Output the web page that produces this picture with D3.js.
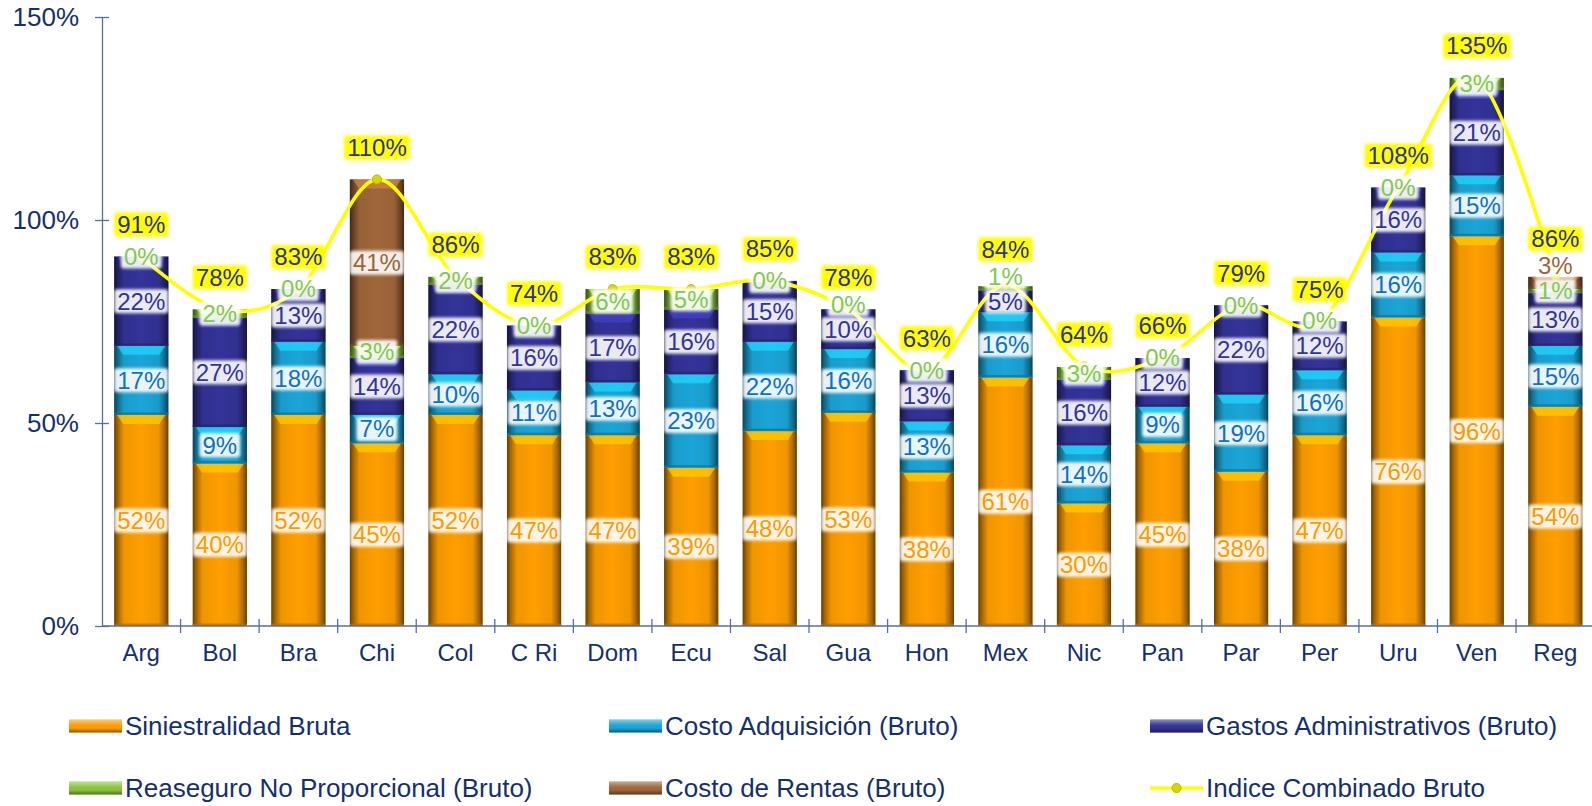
<!DOCTYPE html>
<html>
<head>
<meta charset="utf-8">
<script src="https://cdn.jsdelivr.net/npm/d3@7"></script>
<style>
  body { margin: 0; background: #fff; }
  svg { display: block; font-family: "Liberation Sans", Arial, sans-serif; }
</style>
</head>
<body>
<div id="chart"></div>
<script>
// ---- data (percent) ----
var categories = ["Arg","Bol","Bra","Chi","Col","C Ri","Dom","Ecu","Sal","Gua","Hon","Mex","Nic","Pan","Par","Per","Uru","Ven","Reg"];
var siniestralidad = [52, 40, 52, 45, 52, 47, 47, 39, 48, 52.5, 37.8, 61.2, 30.2, 45, 38, 47, 76, 96, 54];
var costoAdquisicion = [17, 9, 18, 7, 10, 11, 13, 23, 22, 15.7, 12.6, 16.1, 14.3, 9, 19, 16, 16, 15, 15];
var gastosAdmin = [22, 27, 13, 14, 22, 16, 17, 16, 15, 9.8, 12.6, 5.4, 16.1, 12, 22, 12, 16, 21, 13];
var reaseguroNP = [0, 2, 0, 3, 2, 0, 6, 5, 0, 0, 0, 1, 3.2, 0, 0, 0, 0, 3, 1];
var costoRentas = [null, null, null, 41, null, null, null, null, null, null, null, null, null, null, null, null, null, null, 3];
var indiceCombinado = [91, 78, 83, 110, 86, 74, 83, 83, 85, 78, 63, 84, 64, 66, 79, 75, 108, 135, 86];
var yTicks = [0, 50, 100, 150];

var seriesNames = ["Siniestralidad Bruta", "Costo Adquisición (Bruto)", "Gastos Administrativos (Bruto)",
                   "Reaseguro No Proporcional (Bruto)", "Costo de Rentas (Bruto)"];
var lineName = "Indice Combinado Bruto";
var keys = ["sin", "cost", "gast", "reas", "rent"];
var barColors = ["#FF9E00", "#1BA5D8", "#333399", "#8CC63F", "#A0673A"];
var labelColors = ["#FF9900", "#1070C0", "#333399", "#80C850", "#99663A"];

var cfg = {
    width: 1592, height: 806,
    left: 102, top: 17, bottom: 626,
    right: 1594.6
};

var rows = categories.map(function(c, i){
    return {cat: c, sin: siniestralidad[i], cost: costoAdquisicion[i], gast: gastosAdmin[i],
            reas: reaseguroNP[i], rent: costoRentas[i], total: indiceCombinado[i]};
});

var x = d3.scaleBand().domain(categories).range([cfg.left, cfg.right])
    .paddingInner(0.31).paddingOuter(0.155);
var y = d3.scaleLinear().domain([0, 150]).range([cfg.bottom, cfg.top]);

var svg = d3.select("#chart").append("svg")
    .attr("width", cfg.width).attr("height", cfg.height);

var defs = svg.append("defs");
var hs = defs.append("linearGradient").attr("id", "hshade").attr("x1", 0).attr("x2", 1).attr("y1", 0).attr("y2", 0);
[[0, .6], [.07, .35], [.18, .06], [.5, 0], [.82, .06], [.93, .35], [1, .6]].forEach(function(s){
    hs.append("stop").attr("offset", s[0]).attr("stop-color", "#000").attr("stop-opacity", s[1]);
});
var vs = defs.append("linearGradient").attr("id", "vshade").attr("x1", 0).attr("x2", 0).attr("y1", 0).attr("y2", 1);
[[0, "#fff", .45], [.35, "#fff", .1], [.65, "#000", 0], [1, "#000", .45]].forEach(function(s){
    vs.append("stop").attr("offset", s[0]).attr("stop-color", s[1]).attr("stop-opacity", s[2]);
});
defs.append("filter").attr("id", "soft").attr("x", "-20%").attr("y", "-20%").attr("width", "140%").attr("height", "140%")
    .append("feGaussianBlur").attr("stdDeviation", 1.4);

// stacked data through d3.stack
var stack = d3.stack().keys(keys).value(function(d, k){ return d[k] || 0; });
var stacked = stack(rows);

// ---- bars ----
var gBars = svg.append("g").attr("class", "bars");
stacked.forEach(function(layer, si){
    var col = d3.color(barColors[si]);
    var g = gBars.append("g").attr("class", "layer-" + keys[si]);
    layer.forEach(function(d){
        var h = y(d[0]) - y(d[1]);
        if (h <= 0.5) return;
        var bx = x(d.data.cat), bw = x.bandwidth(), by = y(d[1]);
        g.append("rect").attr("x", bx).attr("y", by).attr("width", bw).attr("height", h)
            .attr("fill", barColors[si]);
        g.append("rect").attr("x", bx).attr("y", by).attr("width", bw).attr("height", h)
            .attr("fill", "url(#hshade)");
        // top bevel
        var bh = Math.min(9, h * 0.5);
        g.append("path")
            .attr("d", "M" + (bx + 3) + "," + by + "L" + (bx + bw - 3) + "," + by +
                       "L" + (bx + bw - 9) + "," + (by + bh) + "L" + (bx + 9) + "," + (by + bh) + "Z")
            .attr("fill", col.brighter(0.7)).attr("opacity", 0.75);
        // bottom dark edge
        g.append("rect").attr("x", bx).attr("y", by + h - Math.min(2.5, h * 0.3)).attr("width", bw)
            .attr("height", Math.min(2.5, h * 0.3)).attr("fill", col.darker(1)).attr("opacity", 0.7);
    });
});

// ---- axes ----
var axisColor = "#5470A6", textColor = "#14306C";
var yAxis = d3.axisLeft(y).tickValues(yTicks).tickFormat(function(d){ return d + "%"; })
    .tickSizeInner(7).tickSizeOuter(0).tickPadding(16);
var gy = svg.append("g").attr("transform", "translate(" + cfg.left + ",0)").call(yAxis);
gy.select(".domain").attr("stroke", axisColor).attr("stroke-width", 1.3);
gy.selectAll(".tick line").attr("stroke", axisColor).attr("x1", 7).attr("x2", -7).attr("stroke-width", 1.3);
gy.selectAll(".tick text").attr("fill", textColor).style("font-size", "26px");

var xAxis = d3.axisBottom(x).tickSize(0).tickPadding(18);
var gx = svg.append("g").attr("transform", "translate(0," + cfg.bottom + ")").call(xAxis);
gx.select(".domain").attr("stroke", axisColor).attr("stroke-width", 1.3).attr("d", "M" + cfg.left + ",0H" + cfg.width);
gx.selectAll(".tick text").attr("fill", textColor).style("font-size", "24px");
var gap = x.step() * x.paddingInner() / 2;
gx.selectAll(".sep").data(categories).enter().append("line")
    .attr("x1", function(d){ return x(d) + x.bandwidth() + gap; })
    .attr("x2", function(d){ return x(d) + x.bandwidth() + gap; })
    .attr("y1", -7).attr("y2", 7)
    .attr("stroke", axisColor).attr("stroke-width", 1.3);

// ---- line ----
var cx = function(d){ return x(d.cat) + x.bandwidth() / 2; };
var line = d3.line().x(cx).y(function(d){ return y(d.total); }).curve(d3.curveCardinal.tension(0));
svg.append("path").datum(rows).attr("d", line)
    .attr("fill", "none").attr("stroke", "#FFFF00").attr("stroke-width", 3.6);
svg.selectAll(".marker").data(rows).enter().append("circle")
    .attr("cx", cx).attr("cy", function(d){ return y(d.total); }).attr("r", 4.5)
    .attr("fill", "#D6D600").attr("stroke", "#B8B800").attr("stroke-width", 1);

// ---- labels ----
var gLabels = svg.append("g").attr("class", "labels").style("font-size", "24px");
function addLabel(xc, yc, txt, color, bg){
    var g = gLabels.append("g");
    var t = g.append("text").attr("x", xc).attr("y", yc).attr("dy", "0.35em")
        .attr("text-anchor", "middle").attr("fill", color).text(txt);
    var w = t.node().getComputedTextLength();
    g.insert("rect", "text").attr("x", xc - w / 2 - 3).attr("y", yc - 12).attr("width", w + 6).attr("height", 24)
        .attr("rx", 3).attr("fill", bg).attr("opacity", bg === "#FFFF00" ? 1 : 0.9)
        .attr("filter", "url(#soft)");
}

rows.forEach(function(r, i){
    var xc = x(r.cat) + x.bandwidth() / 2;
    var labs = [];
    stacked.forEach(function(layer, si){
        var v = r[keys[si]];
        if (v === null || v === undefined) return;
        var d = layer[i];
        labs.push({y: y((d[0] + d[1]) / 2), txt: Math.round(v) + "%", color: labelColors[si]});
    });
    for (var k = 1; k < labs.length; k++) {
        if (labs[k].y > labs[k - 1].y - 25) labs[k].y = labs[k - 1].y - 25;
    }
    labs.forEach(function(l){ addLabel(xc, l.y, l.txt, l.color, "#FFFFFF"); });
    var ty = Math.min(y(r.total) - 32, labs[labs.length - 1].y - 27);
    addLabel(xc, ty, r.total + "%", "#2E3192", "#FFFF00");
});

// ---- legend ----
var legendItems = [
    {name: seriesNames[0], color: barColors[0], x: 69, y: 726},
    {name: seriesNames[1], color: barColors[1], x: 609, y: 726},
    {name: seriesNames[2], color: barColors[2], x: 1150, y: 726},
    {name: seriesNames[3], color: barColors[3], x: 69, y: 788},
    {name: seriesNames[4], color: barColors[4], x: 609, y: 788},
    {name: lineName, color: null, x: 1150, y: 788}
];
var legend = svg.selectAll(".legend").data(legendItems).enter().append("g")
    .attr("class", "legend")
    .attr("transform", function(d){ return "translate(" + d.x + "," + d.y + ")"; });
legend.each(function(d){
    var g = d3.select(this);
    if (d.color) {
        g.append("rect").attr("x", 0).attr("y", -6.5).attr("width", 53).attr("height", 13).attr("fill", d.color);
        g.append("rect").attr("x", 0).attr("y", -6.5).attr("width", 53).attr("height", 13).attr("fill", "url(#vshade)");
    } else {
        g.append("line").attr("x1", 0).attr("x2", 53).attr("y1", 0).attr("y2", 0)
            .attr("stroke", "#FFFF00").attr("stroke-width", 3.6);
        g.append("circle").attr("cx", 26.5).attr("cy", 0).attr("r", 4.5)
            .attr("fill", "#D6D600").attr("stroke", "#B8B800");
    }
    g.append("text").attr("x", 56).attr("y", 9).attr("fill", textColor)
        .style("font-size", "26px").text(d.name);
});
</script>
</body>
</html>
